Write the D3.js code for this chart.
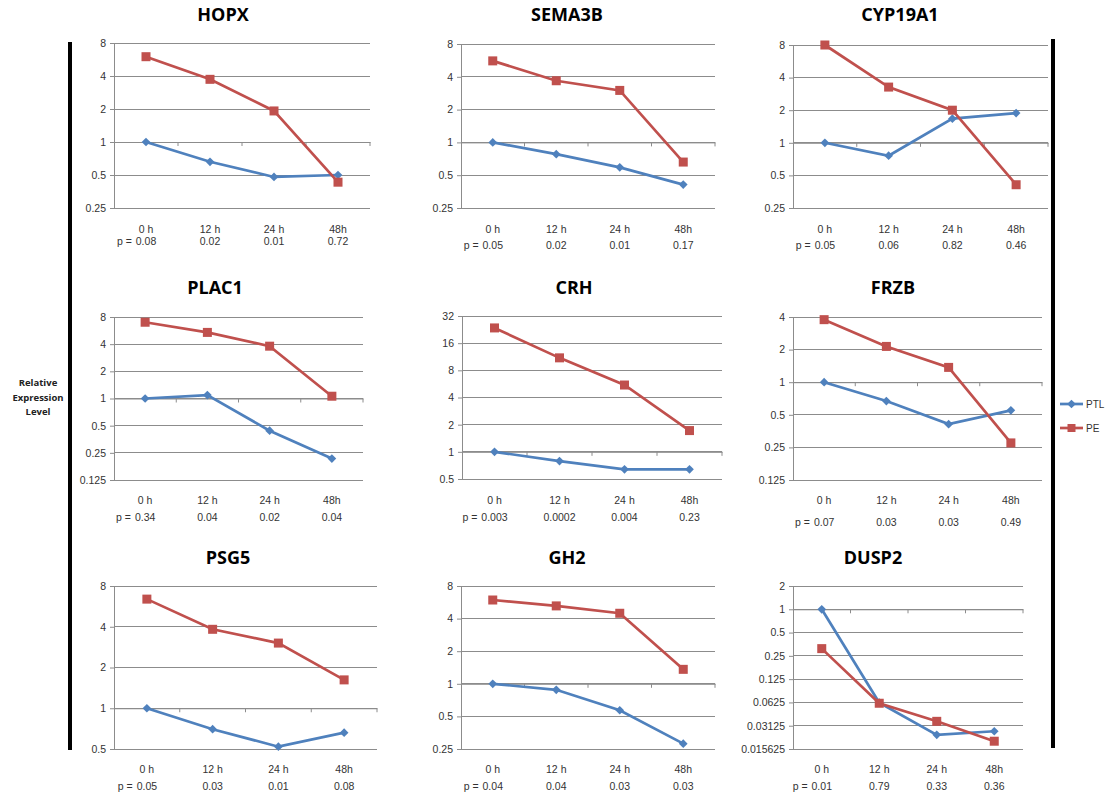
<!DOCTYPE html>
<html>
<head>
<meta charset="utf-8">
<script src="https://cdn.jsdelivr.net/npm/d3@7"></script>
<style>
  html, body { margin: 0; padding: 0; background: #fff; }
  svg { display: block; }
  text { font-family: "Open Sans", "Liberation Sans", sans-serif; fill: #222; }
</style>
</head>
<body>
<svg id="chart" width="1110" height="797"></svg>
<script>
// ---------- DATA ----------
const timepoints = ["0 h", "12 h", "24 h", "48h"];
const genes = ["HOPX", "SEMA3B", "CYP19A1", "PLAC1", "CRH", "FRZB", "PSG5", "GH2", "DUSP2"];
const seriesNames = ["PTL", "PE"];

const ptlValues = [
  [1, 0.66, 0.48, 0.50],     // HOPX
  [1, 0.78, 0.59, 0.41],     // SEMA3B
  [1, 0.76, 1.67, 1.88],     // CYP19A1
  [1, 1.09, 0.44, 0.216],    // PLAC1
  [1, 0.79, 0.64, 0.64],     // CRH
  [1, 0.67, 0.41, 0.55],     // FRZB
  [1, 0.70, 0.52, 0.66],     // PSG5
  [1, 0.88, 0.57, 0.28],     // GH2
  [1, 0.062, 0.0238, 0.0265] // DUSP2
];
const peValues = [
  [6.0, 3.73, 1.92, 0.43],
  [5.6, 3.68, 3.0, 0.66],
  [8.0, 3.27, 2.0, 0.41],
  [7.0, 5.4, 3.8, 1.06],
  [23.6, 11.0, 5.5, 1.72],
  [3.78, 2.14, 1.37, 0.275],
  [6.4, 3.83, 3.03, 1.62],
  [5.94, 5.24, 4.48, 1.36],
  [0.31, 0.061, 0.0356, 0.0197]
];
const pValues = [
  ["0.08", "0.02", "0.01", "0.72"],
  ["0.05", "0.02", "0.01", "0.17"],
  ["0.05", "0.06", "0.82", "0.46"],
  ["0.34", "0.04", "0.02", "0.04"],
  ["0.003", "0.0002", "0.004", "0.23"],
  ["0.07", "0.03", "0.03", "0.49"],
  ["0.05", "0.03", "0.01", "0.08"],
  ["0.04", "0.04", "0.03", "0.03"],
  ["0.01", "0.79", "0.33", "0.36"]
];
const yTicks = [
  [0.25, 0.5, 1, 2, 4, 8],
  [0.25, 0.5, 1, 2, 4, 8],
  [0.25, 0.5, 1, 2, 4, 8],
  [0.125, 0.25, 0.5, 1, 2, 4, 8],
  [0.5, 1, 2, 4, 8, 16, 32],
  [0.125, 0.25, 0.5, 1, 2, 4],
  [0.5, 1, 2, 4, 8],
  [0.25, 0.5, 1, 2, 4, 8],
  [0.015625, 0.03125, 0.0625, 0.125, 0.25, 0.5, 1, 2]
];
const yAxisTitle = ["Relative", "Expression", "Level"];

// ---------- LAYOUT (positions only) ----------
const layout = [
  {L:114, R:370, T:43,  B:208, tx:223, ty:15,  cy:229, py:241},
  {L:461, R:715, T:44,  B:208, tx:567, ty:15,  cy:229, py:245},
  {L:793, R:1048,T:45,  B:208, tx:900, ty:15,  cy:229, py:245},
  {L:114, R:363, T:317, B:480, tx:215, ty:288, cy:500, py:517},
  {L:462, R:722, T:316, B:479, tx:574, ty:288, cy:500, py:517},
  {L:793, R:1042,T:317, B:480, tx:893, ty:288, cy:500, py:522},
  {L:114, R:377, T:586, B:749, tx:228, ty:558, cy:769, py:786},
  {L:461, R:715, T:586, B:749, tx:567, ty:558, cy:769, py:786},
  {L:793, R:1023,T:586, B:749, tx:873, ty:558, cy:769, py:786}
];
const colors = {PTL: "#4F81BD", PE: "#C0504D"};
const gridColor = "#8c8c8c";

const svg = d3.select("#chart");

// Frame bars
svg.append("rect").attr("x", 68).attr("y", 42).attr("width", 4).attr("height", 708).attr("fill", "#000");
svg.append("rect").attr("x", 1051).attr("y", 39).attr("width", 4).attr("height", 709).attr("fill", "#000");

// Y axis title
const yt = svg.append("text").attr("text-anchor", "middle")
  .style("font-size", "9.5px").style("font-weight", "bold");
yAxisTitle.forEach((t, i) => yt.append("tspan").attr("x", 38).attr("y", 386 + i * 14.5).text(t));

// Diamond = square rotated 45 degrees
const diamond = d3.symbol().type(d3.symbolSquare).size(38);

genes.forEach((gene, gi) => {
  const lay = layout[gi];
  const ticks = yTicks[gi];
  const g = svg.append("g");
  const x = d3.scaleBand().domain(timepoints).range([lay.L, lay.R]);
  const y = d3.scaleLog().base(2).domain([d3.min(ticks), d3.max(ticks)]).range([lay.B, lay.T]);
  const cx = d => x(d) + x.bandwidth() / 2;

  // Title
  g.append("text").attr("x", lay.tx).attr("y", lay.ty).attr("dy", "0.35em")
    .attr("text-anchor", "middle").style("font-size", "18px").style("font-weight", "bold")
    .style("fill", "#000").text(gene);

  // Gridlines
  g.selectAll(".grid").data(ticks).join("line")
    .attr("x1", lay.L).attr("x2", lay.R)
    .attr("y1", d => y(d)).attr("y2", d => y(d))
    .attr("stroke", gridColor).attr("stroke-width", 1).attr("shape-rendering", "crispEdges");

  // Y axis
  const yAxis = d3.axisLeft(y).tickValues(ticks).tickSize(4).tickPadding(4)
    .tickFormat(d => String(d));
  const ya = g.append("g").attr("transform", `translate(${lay.L},0)`).call(yAxis);
  ya.select(".domain").attr("stroke", gridColor);
  ya.selectAll(".tick line").attr("stroke", gridColor);
  ya.selectAll(".tick text").style("font-size", "10.5px").style("fill", "#333")
    .style("font-family", "'Liberation Sans', sans-serif");

  // X axis crossing at 1
  const xAxis = d3.axisBottom(x).tickSize(0).tickFormat("");
  const xa = g.append("g").attr("transform", `translate(0,${y(1)})`).call(xAxis);
  xa.select(".domain").attr("stroke", gridColor);
  xa.selectAll(".bt").data(timepoints).join("line")
    .attr("x1", d => x(d) + x.bandwidth()).attr("x2", d => x(d) + x.bandwidth())
    .attr("y1", 0).attr("y2", 4).attr("stroke", gridColor);

  // Category labels
  g.selectAll(".cat").data(timepoints).join("text")
    .attr("x", d => cx(d)).attr("y", lay.cy).attr("dy", "0.35em")
    .attr("text-anchor", "middle").style("font-size", "10.5px").style("fill", "#333")
    .style("font-family", "'Liberation Sans', sans-serif").text(d => d);

  // p values
  const pv = pValues[gi];
  const ptexts = g.selectAll(".pv").data(timepoints).join("text")
    .attr("x", d => cx(d)).attr("y", lay.py).attr("dy", "0.35em")
    .attr("text-anchor", "middle").style("font-size", "10.5px").style("fill", "#333")
    .style("font-family", "'Liberation Sans', sans-serif").text((d, i) => pv[i]);
  const w0 = ptexts.nodes()[0].getComputedTextLength();
  g.append("text").attr("x", cx(timepoints[0]) - w0 / 2 - 4).attr("y", lay.py).attr("dy", "0.35em")
    .attr("text-anchor", "end").style("font-size", "10.5px").style("fill", "#333")
    .style("font-family", "'Liberation Sans', sans-serif").text("p =");

  // Series
  const line = d3.line().x(d => cx(d.t)).y(d => y(d.v));
  const ptl = timepoints.map((t, i) => ({t, v: ptlValues[gi][i]}));
  const pe = timepoints.map((t, i) => ({t, v: peValues[gi][i]}));

  g.append("path").datum(ptl).attr("d", line).attr("fill", "none")
    .attr("stroke", colors.PTL).attr("stroke-width", 2.7);
  g.selectAll(".ptlm").data(ptl).join("path")
    .attr("transform", d => `translate(${cx(d.t)},${y(d.v)}) rotate(45)`)
    .attr("d", diamond).attr("fill", colors.PTL);

  g.append("path").datum(pe).attr("d", line).attr("fill", "none")
    .attr("stroke", colors.PE).attr("stroke-width", 2.7);
  g.selectAll(".pem").data(pe).join("rect")
    .attr("x", d => cx(d.t) - 4.5).attr("y", d => y(d.v) - 4.5)
    .attr("width", 9).attr("height", 9).attr("fill", colors.PE);
});

// Legend
const leg = svg.append("g");
seriesNames.forEach((s, i) => {
  const ly = 404 + i * 24;
  leg.append("line").attr("x1", 1060).attr("x2", 1083).attr("y1", ly).attr("y2", ly)
    .attr("stroke", colors[s]).attr("stroke-width", 2.7);
  if (s === "PTL") {
    leg.append("path").attr("transform", `translate(1071.5,${ly}) rotate(45)`).attr("d", diamond).attr("fill", colors[s]);
  } else {
    leg.append("rect").attr("x", 1067.5).attr("y", ly - 4).attr("width", 8).attr("height", 8).attr("fill", colors[s]);
  }
  leg.append("text").attr("x", 1086).attr("y", ly).attr("dy", "0.35em")
    .style("font-size", "10px").style("fill", "#333")
    .style("font-family", "'Liberation Sans', sans-serif").text(s);
});
</script>
</body>
</html>
